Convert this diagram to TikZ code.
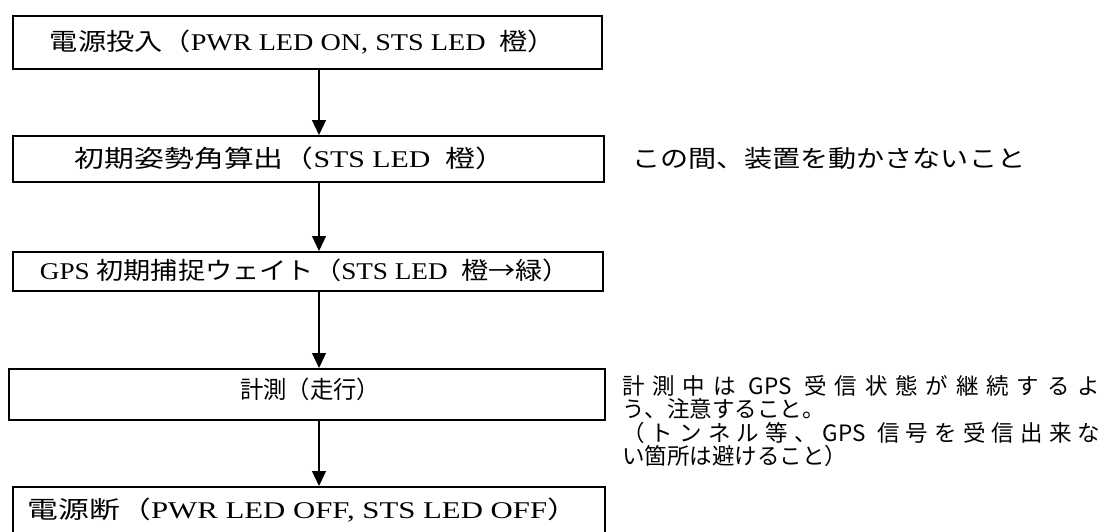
\documentclass[tikz,border=0pt]{standalone}
\usepackage{fontspec}
\usepackage{graphicx}
\setmainfont{Liberation Serif}
\newfontfamily\jp{Noto Sans CJK JP}
\usetikzlibrary{arrows.meta}
\newcommand{\hfit}[2]{\resizebox{#1}{\height}{#2}}
\newcommand{\jg}{\hskip 0pt plus 1fil\relax}
\begin{document}
\begin{tikzpicture}[x=1pt,y=-1pt,
  flowbox/.style={draw=black,line width=1.8pt,inner sep=0pt,anchor=north west},
  boxtext/.style={inner sep=0pt,font=\fontsize{24pt}{28pt}\selectfont},
  notetext/.style={inner sep=0pt,anchor=west,font=\jp\fontsize{22.5pt}{26pt}\selectfont},
  flowarrow/.style={draw=black,line width=1.2pt,-{Triangle[width=14pt,length=15pt]}}]
\useasboundingbox (0,0) rectangle (1107,531);
\fill[white] (0,0) rectangle (1107,531);
\coordinate (ax) at (319,0);
% boxes
\node[flowbox,minimum width=589pt,minimum height=53pt] (b1) at (12,15) {};
\node[flowbox,minimum width=591pt,minimum height=46pt] (b2) at (12,135) {};
\node[flowbox,minimum width=590pt,minimum height=39pt] (b3) at (12,251) {};
\node[flowbox,minimum width=596pt,minimum height=51pt] (b4) at (8,368) {};
\node[flowbox,minimum width=592pt,minimum height=54pt] (b5) at (12,486) {};
% box texts
\node[boxtext] (t1) at (303,42) {\hfit{506pt}{{\jp 電源投入（}PWR LED ON, STS LED\ \ {\jp 橙）}}};
\node[boxtext] (t2) at (290,158) {\hfit{430pt}{{\jp 初期姿勢角算出（}STS LED\ \ {\jp 橙）}}};
\node[boxtext] (t3) at (305,270) {\hfit{530pt}{GPS {\jp 初期捕捉ウェイト（}STS LED\ \ {\jp 橙→緑）}}};
\node[boxtext,font=\jp\fontsize{24pt}{28pt}\selectfont] (t4) at (310,389) {\hfit{140pt}{計測（走行）}};
\node[boxtext] (t5) at (303,510) {\hfit{550pt}{{\jp 電源断（}PWR LED OFF, STS LED OFF{\jp ）}}};
% arrows
\draw[flowarrow] (b1.south -| ax) -- (b2.north -| ax);
\draw[flowarrow] (b2.south -| ax) -- (b3.north -| ax);
\draw[flowarrow] (b3.south -| ax) -- (b4.north -| ax);
\draw[flowarrow] (b4.south -| ax) -- (b5.north -| ax);
% notes
\node[notetext,font=\jp\fontsize{24pt}{28pt}\selectfont] (n1) at (632,158) {\hfit{393pt}{この間、装置を動かさないこと}};
\node[notetext] (n2a) at (622,386) {\makebox[478pt][s]{計\jg 測\jg 中\jg は\jg\ GPS\ \jg 受\jg 信\jg 状\jg 態\jg が\jg 継\jg 続\jg す\jg る\jg よ}};
\node[notetext] (n2b) at (622,409) {う、注意すること。};
\node[notetext] (n2c) at (622,433) {\makebox[478pt][s]{（\jg ト\jg ン\jg ネ\jg ル\jg 等\jg 、\jg GPS\ \jg 信\jg 号\jg を\jg 受\jg 信\jg 出\jg 来\jg な}};
\node[notetext] (n2d) at (622,456) {い箇所は避けること）};
\end{tikzpicture}
\end{document}
